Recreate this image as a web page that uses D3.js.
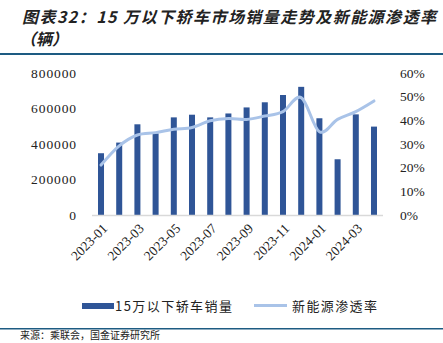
<!DOCTYPE html>
<html>
<head>
<meta charset="utf-8">
<script src="https://cdn.jsdelivr.net/npm/d3@7"></script>
<style>
  html, body { margin: 0; padding: 0; background: #fff; }
  svg { display: block; }
</style>
</head>
<body>
<svg id="chart" width="443" height="343"></svg>
<script>
// Monthly sedan sales under 150k RMB and NEV penetration rate
const months = ["2023-01","2023-02","2023-03","2023-04","2023-05","2023-06","2023-07","2023-08",
                "2023-09","2023-10","2023-11","2023-12","2024-01","2024-02","2024-03","2024-04"];
const sales = [348000, 408000, 511000, 460000, 550000, 565000, 550000, 572000,
               606000, 635000, 676000, 722000, 545000, 314000, 567000, 498000];
const nevRate = [0.211, 0.292, 0.338, 0.348, 0.362, 0.370, 0.398, 0.408,
                 0.404, 0.418, 0.437, 0.496, 0.352, 0.404, 0.437, 0.482];
const leftTicks = [0, 200000, 400000, 600000, 800000];
const rightTicks = [0, 0.1, 0.2, 0.3, 0.4, 0.5, 0.6];
const xLabels = ["2023-01","2023-03","2023-05","2023-07","2023-09","2023-11","2024-01","2024-03"];

const svg = d3.select("#chart");
const barColor = "#2f5597";
const lineColor = "#a9c3e8";
const ruleColor = "#1d5b82";
const serif = "'Liberation Serif', 'Times New Roman', serif";
const cjk = "'Noto Sans CJK SC', sans-serif";

// Title
svg.append("text")
  .attr("x", 22).attr("y", 23)
  .attr("textLength", 414).attr("lengthAdjust", "spacing")
  .style("font-family", cjk).style("font-weight", "bold").style("font-style", "italic")
  .style("font-size", "16px").attr("fill", "#222")
  .text("图表32：15 万以下轿车市场销量走势及新能源渗透率");
svg.append("text")
  .attr("x", 20).attr("y", 45)
  .style("font-family", cjk).style("font-weight", "bold").style("font-style", "italic")
  .style("font-size", "16px").attr("fill", "#222")
  .text("（辆）");

// Rules
svg.append("rect").attr("x", 0).attr("y", 53).attr("width", 443).attr("height", 2).attr("fill", ruleColor);
svg.append("rect").attr("x", 0).attr("y", 328).attr("width", 443).attr("height", 1.5).attr("fill", ruleColor);

// Scales
const x = d3.scaleBand().domain(months).range([92, 383]).paddingInner(0.67).paddingOuter(0.33);
const y = d3.scaleLinear().domain([0, 800000]).range([215, 73]);
const y2 = d3.scaleLinear().domain([0, 0.6]).range([215, 73]);

// Left axis
const leftAxis = svg.append("g").attr("transform", "translate(77,0)")
  .call(d3.axisLeft(y).tickValues(leftTicks).tickSize(0).tickPadding(0).tickFormat(d3.format("d")));
leftAxis.select(".domain").remove();
leftAxis.selectAll("text")
  .style("font-family", serif).style("font-size", "13.5px").attr("fill", "#222")
  .style("letter-spacing", "0.9px");

// Right axis
const rightAxis = svg.append("g").attr("transform", "translate(400,0)")
  .call(d3.axisRight(y2).tickValues(rightTicks).tickSize(0).tickPadding(0).tickFormat(d3.format(".0%")));
rightAxis.select(".domain").remove();
rightAxis.selectAll("text")
  .style("font-family", serif).style("font-size", "13.5px").attr("fill", "#222");

// Bars
svg.append("g").selectAll("rect").data(months).join("rect")
  .attr("x", d => x(d))
  .attr("y", (d, i) => y(sales[i]))
  .attr("width", x.bandwidth())
  .attr("height", (d, i) => y(0) - y(sales[i]))
  .attr("fill", barColor);

// Baseline
svg.append("line").attr("x1", 92).attr("x2", 383).attr("y1", 215.5).attr("y2", 215.5)
  .attr("stroke", "#d9d9d9").attr("stroke-width", 1.5);

// Penetration line
const line = d3.line()
  .x((d, i) => x(months[i]) + x.bandwidth() / 2)
  .y(d => y2(d))
  .curve(d3.curveCatmullRom.alpha(0));
svg.append("path").datum(nevRate)
  .attr("d", line).attr("fill", "none")
  .attr("stroke", lineColor).attr("stroke-width", 3).attr("stroke-linecap", "round");

// X labels (every other month, rotated)
const xAxis = svg.append("g").attr("transform", "translate(0,222)")
  .call(d3.axisBottom(x).tickValues(xLabels).tickSize(0).tickPadding(0));
xAxis.select(".domain").remove();
xAxis.selectAll("text")
  .attr("transform", "translate(4,4) rotate(-45)")
  .attr("text-anchor", "end").attr("dy", "0.35em").attr("y", 0)
  .style("font-family", serif).style("font-size", "13.5px").attr("fill", "#222");

// Legend
const legend = svg.append("g");
legend.append("rect").attr("x", 82).attr("y", 303).attr("width", 32).attr("height", 6).attr("fill", barColor);
legend.append("text").attr("x", 115).attr("y", 310.5)
  .style("font-family", cjk).style("font-size", "13px").attr("fill", "#222")
  .attr("textLength", 117).attr("lengthAdjust", "spacing")
  .text("15万以下轿车销量");
legend.append("line").attr("x1", 254).attr("x2", 287).attr("y1", 305.5).attr("y2", 305.5)
  .attr("stroke", lineColor).attr("stroke-width", 3);
legend.append("text").attr("x", 292).attr("y", 310.5)
  .style("font-family", cjk).style("font-size", "13px").attr("fill", "#222")
  .attr("textLength", 85).attr("lengthAdjust", "spacing")
  .text("新能源渗透率");

// Source note
svg.append("text").attr("x", 20).attr("y", 339)
  .style("font-family", cjk).style("font-size", "10px").attr("fill", "#222")
  .text("来源：乘联会，国金证券研究所");
</script>
</body>
</html>
